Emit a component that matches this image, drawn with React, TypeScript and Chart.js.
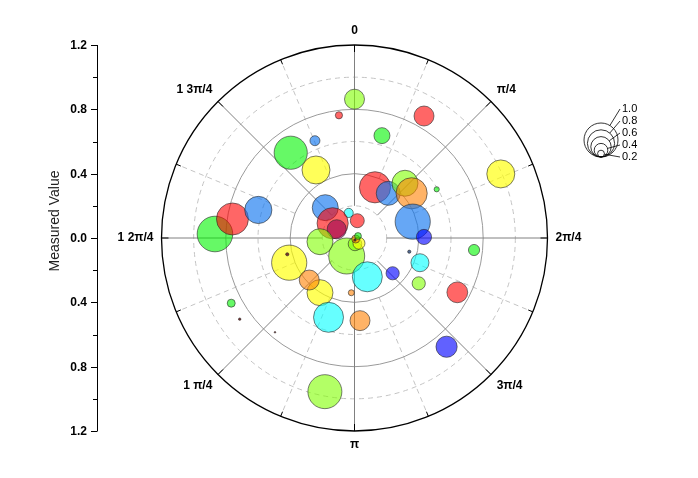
import React, { useEffect, useRef } from "react";
import { Chart, registerables } from "chart.js";

Chart.register(...registerables);

// Angle in radians, measured clockwise from the top (0)
const angles = [
  0.0, 6.157, 0.518, 0.262, 5.897, 5.641, 5.768, 1.158, 0.384, 0.647,
  0.745, 0.907, 1.036, 1.297, 1.556, 5.516, 6.055, 0.16, 5.306, 5.167,
  4.741, 4.867, 4.996, 3.551, 4.606, 3.06, 2.437, 2.27, 1.05, 2.9,
  4.351, 4.475, 3.705, 3.964, 2.822, 2.317, 1.816, 1.932, 2.186, 1.671,
  2.057, 3.2, 3.458, 3.075, 4.226, 4.097, 3.842, 2.439, 3.332,
];
// Measured value (radius)
const values = [
  0.863, 0.769, 0.873, 0.659, 0.653, 0.662, 0.486, 0.993, 0.34, 0.348,
  0.463, 0.451, 0.594, 0.376, 0.432, 0.262, 0.16, 0.109, 0.164, 0.123,
  0.868, 0.768, 0.623, 0.122, 0.216, 0.037, 0.043, 0.01, 0.025, 0.013,
  0.434, 0.43, 0.402, 0.384, 0.254, 0.323, 0.351, 0.435, 0.489, 0.747,
  0.723, 0.341, 0.519, 0.515, 0.867, 0.874, 0.767, 0.886, 0.973,
];
// Bubble size value
const sizes = [
  0.5, 0.18, 0.5, 0.4, 0.25, 0.83, 0.7, 0.7, 0.78, 0.6,
  0.65, 0.78, 0.13, 0.88, 0.38, 0.65, 0.23, 0.35, 0.78, 0.48,
  0.89, 0.8, 0.68, 0.9, 0.65, 0.34, 0.3, 0.2, 0.17, 0.06,
  0.88, 0.08, 0.65, 0.5, 0.75, 0.33, 0.08, 0.45, 0.33, 0.28,
  0.52, 0.15, 0.75, 0.5, 0.2, 0.06, 0.04, 0.53, 0.85,
];
// Colour group of each bubble
const groups = [
  "lime", "red", "red", "green", "blue", "green", "yellow", "yellow", "red", "blue",
  "lime", "orange", "green", "blue", "navy", "blue", "cyan", "red", "red", "crimson",
  "green", "red", "blue", "lime", "lime", "lime", "yellow", "orange", "green", "dark",
  "yellow", "dark", "yellow", "orange", "cyan", "navy", "slate", "cyan", "lime", "green",
  "red", "orange", "cyan", "orange", "green", "dark", "dark", "navy", "lime",
];

const angleTickValues = [0, 1, 2, 3, 4, 5, 6, 7]; // multiples of pi/4
const angleTickLabels = ["0", "π/4", "2π/4", "3π/4", "π", "1 π/4", "1 2π/4", "1 3π/4"];
const radialTickValues = [1.2, 0.8, 0.4, 0, -0.4, -0.8, -1.2];
const radialTickLabels = ["1.2", "0.8", "0.4", "0.0", "0.4", "0.8", "1.2"];
const radialMinorValues = [1.0, 0.6, 0.2, -0.2, -0.6, -1.0];
const solidRings = [0.4, 0.8];
const dashedRings = [0.2, 0.6, 1.0];
const sizeLegendValues = [1.0, 0.8, 0.6, 0.4, 0.2];
const sizeLegendLabels = ["1.0", "0.8", "0.6", "0.4", "0.2"];
const axisTitle = "Measured Value";

const palette: Record<string, string> = {
  red: "rgba(255,0,0,0.6)",
  green: "rgba(0,245,0,0.6)",
  blue: "rgba(20,120,240,0.65)",
  yellow: "rgba(255,255,0,0.65)",
  lime: "rgba(128,255,0,0.6)",
  orange: "rgba(255,128,0,0.6)",
  cyan: "rgba(0,255,255,0.6)",
  navy: "rgba(0,0,255,0.62)",
  crimson: "rgba(150,0,80,0.6)",
  dark: "rgba(110,30,30,0.9)",
  slate: "rgba(40,70,120,0.8)",
};

const RMAX = 1.2;
const BUBBLE_SCALE = 20;
const LEGEND_SCALE = 17;
const FONT = "Arial, 'Liberation Sans', sans-serif";

const polarGrid = {
  id: "polarGrid",
  beforeDatasetsDraw(chart: any) {
    const { ctx, scales } = chart;
    const xs = scales.x;
    const ys = scales.y;
    const cx = xs.getPixelForValue(0);
    const cy = ys.getPixelForValue(0);
    const unit = xs.getPixelForValue(1) - cx;
    const pt = (r: number, a: number) => [cx + r * unit * Math.sin(a), cy - r * unit * Math.cos(a)];
    ctx.save();
    ctx.setLineDash([5, 4]);
    ctx.strokeStyle = "#c4c4c4";
    ctx.lineWidth = 1;
    dashedRings.forEach((r) => {
      ctx.beginPath();
      ctx.arc(cx, cy, r * unit, 0, Math.PI * 2);
      ctx.stroke();
    });
    for (let k = 0; k < 8; k++) {
      const a = (k + 0.5) * (Math.PI / 4);
      const [x1, y1] = pt(0.4, a);
      const [x2, y2] = pt(RMAX, a);
      ctx.beginPath();
      ctx.moveTo(x1, y1);
      ctx.lineTo(x2, y2);
      ctx.stroke();
    }
    ctx.setLineDash([]);
    ctx.strokeStyle = "#9a9a9a";
    solidRings.forEach((r) => {
      ctx.beginPath();
      ctx.arc(cx, cy, r * unit, 0, Math.PI * 2);
      ctx.stroke();
    });
    ctx.strokeStyle = "#808080";
    angleTickValues.forEach((k) => {
      const a = k * (Math.PI / 4);
      const [x1, y1] = pt(0.2, a);
      const [x2, y2] = pt(RMAX, a);
      ctx.beginPath();
      ctx.moveTo(x1, y1);
      ctx.lineTo(x2, y2);
      ctx.stroke();
    });
    ctx.strokeStyle = "#000";
    ctx.lineWidth = 1.3;
    ctx.beginPath();
    ctx.arc(cx, cy, RMAX * unit, 0, Math.PI * 2);
    ctx.stroke();
    ctx.lineWidth = 1;
    for (let k = 0; k < 16; k++) {
      const a = k * (Math.PI / 8);
      const len = k % 2 === 0 ? 7 : 5;
      const R = RMAX * unit;
      ctx.beginPath();
      ctx.moveTo(cx + R * Math.sin(a), cy - R * Math.cos(a));
      ctx.lineTo(cx + (R - len) * Math.sin(a), cy - (R - len) * Math.cos(a));
      ctx.stroke();
    }
    ctx.fillStyle = "#000";
    ctx.font = `bold 12px ${FONT}`;
    angleTickValues.forEach((k, i) => {
      const a = k * (Math.PI / 4);
      const R = RMAX * unit + 8;
      const s = Math.sin(a);
      const c = Math.cos(a);
      ctx.textAlign = s > 0.01 ? "left" : s < -0.01 ? "right" : "center";
      ctx.textBaseline = c > 0.01 ? "bottom" : c < -0.01 ? "top" : "middle";
      ctx.fillText(angleTickLabels[i], cx + R * s, cy - R * c);
    });

    const ax = 97;
    const yTop = ys.getPixelForValue(RMAX);
    const yBot = ys.getPixelForValue(-RMAX);
    ctx.strokeStyle = "#000";
    ctx.lineWidth = 1;
    ctx.beginPath();
    ctx.moveTo(ax + 0.5, yTop);
    ctx.lineTo(ax + 0.5, yBot);
    ctx.stroke();
    ctx.textAlign = "right";
    ctx.textBaseline = "middle";
    radialTickValues.forEach((v, i) => {
      const y = Math.round(ys.getPixelForValue(v)) + 0.5;
      ctx.beginPath();
      ctx.moveTo(ax - 6, y);
      ctx.lineTo(ax + 0.5, y);
      ctx.stroke();
      ctx.fillText(radialTickLabels[i], ax - 10, y);
    });
    radialMinorValues.forEach((v) => {
      const y = Math.round(ys.getPixelForValue(v)) + 0.5;
      ctx.beginPath();
      ctx.moveTo(ax - 4, y);
      ctx.lineTo(ax + 0.5, y);
      ctx.stroke();
    });
    ctx.save();
    ctx.translate(55, 221);
    ctx.rotate(-Math.PI / 2);
    ctx.font = `14px ${FONT}`;
    ctx.textAlign = "center";
    ctx.textBaseline = "middle";
    ctx.fillStyle = "#222";
    ctx.fillText(axisTitle, 0, 0);
    ctx.restore();
    ctx.restore();
  },
  afterDraw(chart: any) {
    const { ctx } = chart;
    const lx = 601;
    const bottom = 157;
    const labelX = 622;
    const labelYs = [109, 121, 133, 145, 157];
    ctx.save();
    ctx.strokeStyle = "#000";
    ctx.lineWidth = 0.8;
    ctx.fillStyle = "#000";
    ctx.font = `11px ${FONT}`;
    ctx.textAlign = "left";
    ctx.textBaseline = "middle";
    sizeLegendValues.forEach((v, i) => {
      const r = v * LEGEND_SCALE;
      const cy = bottom - r;
      ctx.beginPath();
      ctx.arc(lx, cy, r, 0, Math.PI * 2);
      ctx.stroke();
      const ty = labelYs[i];
      const dx = labelX - 2 - lx;
      const dy = ty - cy;
      const d = Math.hypot(dx, dy);
      ctx.beginPath();
      ctx.moveTo(lx + (r * dx) / d, cy + (r * dy) / d);
      ctx.lineTo(labelX - 2, ty);
      ctx.stroke();
      ctx.fillText(sizeLegendLabels[i], labelX, ty);
    });
    ctx.restore();
  },
};

export default function App() {
  const ref = useRef<HTMLCanvasElement | null>(null);
  useEffect(() => {
    if (!ref.current) return;
    const data = angles.map((a, i) => ({
      x: values[i] * Math.sin(a),
      y: values[i] * Math.cos(a),
      r: sizes[i] * BUBBLE_SCALE,
    }));
    const chart = new Chart(ref.current, {
      type: "bubble",
      data: {
        datasets: [
          {
            data,
            backgroundColor: groups.map((g) => palette[g]),
            borderColor: "rgba(40,40,40,0.6)",
            borderWidth: 1,
            hoverBorderWidth: 1,
          },
        ],
      },
      options: {
        responsive: false,
        animation: false,
        events: [],
        clip: false as any,
        layout: { padding: { left: 161.5, right: 150.5, top: 45, bottom: 47 } },
        scales: {
          x: { type: "linear", min: -RMAX, max: RMAX, display: false },
          y: { type: "linear", min: -RMAX, max: RMAX, display: false },
        },
        plugins: { legend: { display: false }, tooltip: { enabled: false } },
      },
      plugins: [polarGrid],
    });
    return () => chart.destroy();
  }, []);
  return (
    <div style={{ position: "absolute", left: 0, top: 0, width: 698, height: 478, background: "#fff" }}>
      <canvas ref={ref} width={698} height={478} style={{ display: "block" }} />
    </div>
  );
}
